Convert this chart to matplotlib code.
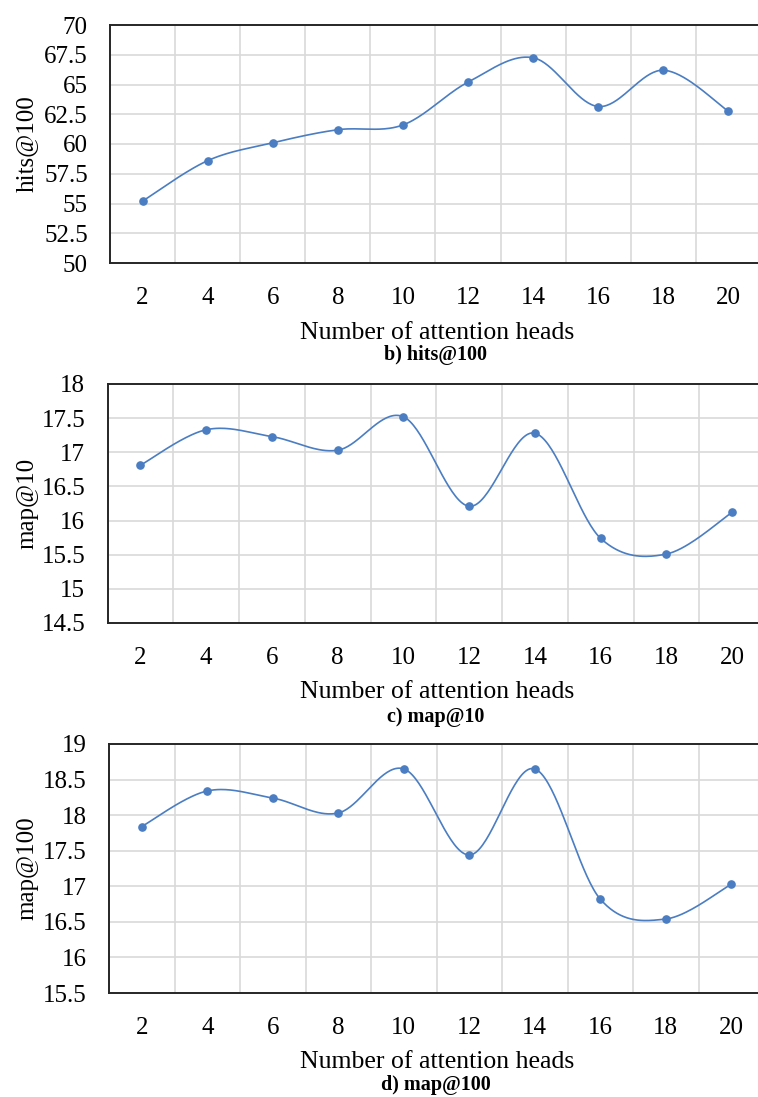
import numpy as np
import matplotlib
matplotlib.use('Agg')
import matplotlib.pyplot as plt
from matplotlib.ticker import MultipleLocator

plt.rcParams['font.family'] = ['Liberation Serif', 'DejaVu Serif']

heads = [2, 4, 6, 8, 10, 12, 14, 16, 18, 20]
hits100 = [55.2, 58.6, 60.1, 61.2, 61.6, 65.2, 67.25, 63.15, 66.2, 62.75]
map10 = [16.81, 17.33, 17.23, 17.03, 17.52, 16.21, 17.28, 15.74, 15.51, 16.12]
map100 = [17.84, 18.34, 18.24, 18.03, 18.65, 17.44, 18.65, 16.82, 16.54, 17.03]

ylabels = ['hits@100', 'map@10', 'map@100']
captions = ['b) hits@100', 'c) map@10', 'd) map@100']
ylims = [(50, 70), (14.5, 18), (15.5, 19)]
ysteps = [2.5, 0.5, 0.5]

W, H = 758, 1097
# axes boxes in pixels: left, top, right, bottom
boxes = [(110, 25, 761, 263), (107.5, 384, 765, 623), (109, 744, 764, 993)]
xlab_y = [333, 692, 1062]
cap_y = [355, 717, 1085]

line_color = '#4A7DC2'


def smooth(x, y, n=40):
    # excel-like smoothed line (catmull-rom as bezier)
    x = np.asarray(x, float)
    y = np.asarray(y, float)
    px = np.concatenate([[x[0]], x, [x[-1]]])
    py = np.concatenate([[y[0]], y, [y[-1]]])
    xs, ys = [], []
    t = np.linspace(0, 1, n)
    for i in range(1, len(px) - 2):
        p0 = np.array([px[i], py[i]])
        p3 = np.array([px[i + 1], py[i + 1]])
        c1 = p0 + (np.array([px[i + 1], py[i + 1]]) - np.array([px[i - 1], py[i - 1]])) / 6
        c2 = p3 - (np.array([px[i + 2], py[i + 2]]) - np.array([px[i], py[i]])) / 6
        b = ((1 - t) ** 3)[:, None] * p0 + (3 * (1 - t) ** 2 * t)[:, None] * c1 \
            + (3 * (1 - t) * t ** 2)[:, None] * c2 + (t ** 3)[:, None] * p3
        xs.extend(b[:, 0])
        ys.extend(b[:, 1])
    return np.array(xs), np.array(ys)


fig = plt.figure(figsize=(W / 100, H / 100), dpi=100)

for k, vals in enumerate([hits100, map10, map100]):
    l, t, r, b = boxes[k]
    ax = fig.add_axes([l / W, 1 - b / H, (r - l) / W, (b - t) / H])
    sx, sy = smooth(heads, vals)
    ax.plot(sx, sy, color=line_color, lw=1.2, zorder=3, clip_on=False)
    ax.plot(heads, vals, 'o', color=line_color, ms=5.2, zorder=4, clip_on=False)

    ax.set_xlim(1, 21)
    ax.set_ylim(*ylims[k])
    ax.set_xticks(heads)
    ax.set_xticks(np.arange(3, 20, 2), minor=True)
    ax.yaxis.set_major_locator(MultipleLocator(ysteps[k]))
    ax.yaxis.set_major_formatter(plt.FuncFormatter(lambda v, p: ('%g' % v)))
    ax.grid(which='minor', axis='x', color='#d9d9d9', lw=1.2)
    ax.grid(which='major', axis='y', color='#d9d9d9', lw=1.2)
    ax.set_axisbelow(True)
    ax.tick_params(which='both', length=0)
    ax.tick_params(axis='y', labelsize=18, pad=16)
    ax.tick_params(axis='x', labelsize=18, pad=17)
    for s in ['top', 'bottom', 'left']:
        ax.spines[s].set_color('#262626')
        ax.spines[s].set_linewidth(1.4)
    ax.spines['right'].set_visible(False)
    ax.set_ylabel(ylabels[k], fontsize=18)
    ax.yaxis.set_label_coords(-(l - 38) / (r - l), 0.5)

    fig.text(437 / W, 1 - xlab_y[k] / H, 'Number of attention heads', fontsize=18.5,
             ha='center', va='center')
    fig.text(436 / W, 1 - cap_y[k] / H, captions[k], fontsize=14.5, fontweight='bold',
             ha='center', va='center')

fig.savefig('out.png', dpi=100)
